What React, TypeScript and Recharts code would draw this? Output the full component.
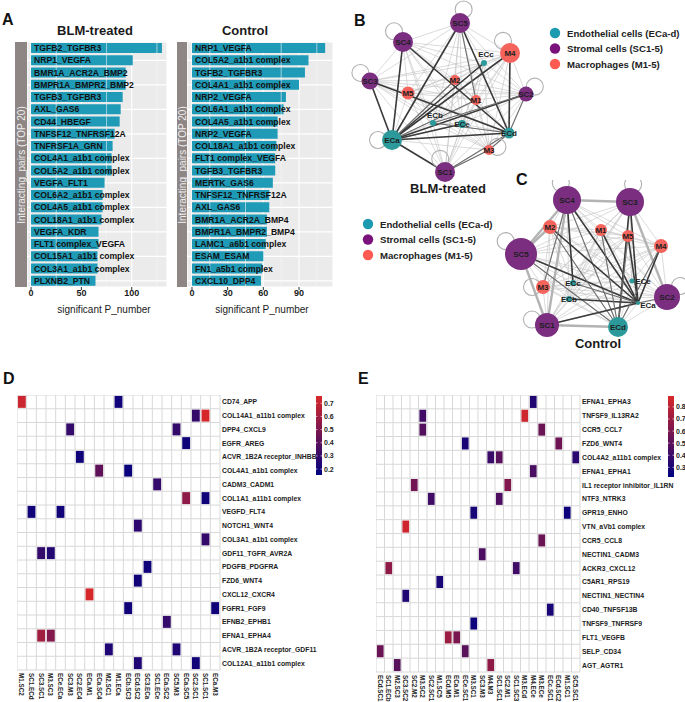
import React from 'react'
import {
  BarChart, Bar, XAxis, YAxis, CartesianGrid, LabelList,
  ScatterChart, Scatter, ReferenceLine,
} from 'recharts'

const FONT = 'Arial, "Liberation Sans", Helvetica, sans-serif'

// ---- panel A: top 20 interacting pairs
const blmPairs = [
  'TGFB2_TGFBR3', 'NRP1_VEGFA', 'BMR1A_ACR2A_BMP2', 'BMPR1A_BMPR2_BMP2', 'TGFB3_TGFBR3',
  'AXL_GAS6', 'CD44_HBEGF', 'TNFSF12_TNFRSF12A', 'TNFRSF1A_GRN', 'COL4A1_a1b1 complex',
  'COL5A2_a1b1 complex', 'VEGFA_FLT1', 'COL6A2_a1b1 complex', 'COL4A5_a1b1 complex', 'COL18A1_a1b1 complex',
  'VEGFA_KDR', 'FLT1 complex_VEGFA', 'COL15A1_a1b1 complex', 'COL3A1_a1b1 complex', 'PLXNB2_PTN',
]
const blmCounts = [130, 101, 94, 94, 91, 89, 88, 83, 81, 80, 80, 73, 71, 71, 70, 67, 67, 66, 66, 64]

const ctrlPairs = [
  'NRP1_VEGFA', 'COL5A2_a1b1 complex', 'TGFB2_TGFBR3', 'COL4A1_a1b1 complex', 'NRP2_VEGFA',
  'COL6A1_a1b1 complex', 'COL4A5_a1b1 complex', 'NRP2_VEGFA', 'COL18A1_a1b1 complex', 'FLT1 complex_VEGFA',
  'TGFB3_TGFBR3', 'MERTK_GAS6', 'TNFSF12_TNFRSF12A', 'AXL_GAS6', 'BMR1A_ACR2A_BMP4',
  'BMPR1A_BMPR2_BMP4', 'LAMC1_a6b1 complex', 'ESAM_ESAM', 'FN1_a5b1 complex', 'CXCL10_DPP4',
]
const ctrlCounts = [112, 98, 95, 90, 79, 77, 72, 72, 71, 70, 70, 68, 65, 65, 63, 63, 62, 60, 59, 58]

// ---- panels B / C: cell-cell networks (layout units)
const blmNodes = ['SC5', 'SC4', 'SC3', 'M5', 'M2', 'ECc', 'M4', 'SC2', 'M1', 'ECb', 'ECe', 'ECd', 'ECa', 'M3', 'SC1']
const blmX = [6.0, 3.15, 1.5, 3.4, 5.75, 7.2, 8.5, 9.3, 6.8, 4.65, 6.1, 8.45, 2.6, 7.45, 5.25]
const blmY = [1.15, 2.1, 4.05, 4.65, 4.0, 3.15, 2.65, 4.7, 5.0, 6.15, 6.2, 6.65, 7.0, 7.5, 8.6]
const blmStrength = [10, 10, 8.5, 6.5, 5, 3, 10, 7.5, 5, 3, 4, 5.5, 10, 5, 10]
const blmStrong: [string, string, string][] = [
  ['ECa', 'SC4', 'd'], ['ECa', 'SC3', 'd'], ['ECa', 'SC1', 'd'], ['ECa', 'SC5', 'd'], ['ECa', 'ECd', 'd'],
  ['ECa', 'SC2', 'd'], ['ECa', 'M4', 'd'], ['ECa', 'ECc', 'd'], ['ECa', 'ECe', 'd'], ['ECa', 'M1', 'm'],
  ['ECa', 'M2', 'm'], ['SC4', 'ECd', 'd'], ['SC5', 'ECd', 'd'], ['M4', 'ECd', 'd'], ['SC2', 'ECd', 'm'],
  ['SC3', 'ECd', 'd'], ['SC1', 'M3', 'm'], ['ECd', 'M3', 'm'], ['SC2', 'ECb', 'm'], ['SC5', 'M1', 'm'],
  ['ECb', 'ECd', 'm'], ['SC1', 'ECd', 'm'],
]
const blmLoops: [string, number][] = [['SC5', -75], ['SC4', -130], ['SC3', -140], ['ECa', 180], ['M4', -120], ['SC2', -40], ['SC1', -110], ['M3', -20]]
const blmLabelShift: Record<string, [number, number]> = { ECc: [2, -9], ECb: [2, -8] }

const ctrlNodes = ['SC4', 'SC3', 'M2', 'M1', 'M5', 'M4', 'SC5', 'ECe', 'SC2', 'M3', 'ECc', 'ECb', 'ECa', 'SC1', 'ECd']
const ctrlX = [3.85, 7.0, 3.0, 5.55, 6.9, 8.55, 1.55, 7.1, 8.85, 2.65, 4.15, 3.95, 7.4, 2.85, 6.4]
const ctrlY = [1.0, 1.1, 2.35, 2.5, 2.8, 3.3, 3.7, 5.05, 5.85, 5.35, 5.15, 5.95, 6.15, 7.25, 7.35]
const ctrlStrength = [14, 14, 7, 6, 6, 7, 16, 2.5, 13, 7, 3, 3, 2, 12, 10]
const ctrlStrong: [string, string, string][] = [
  ['SC5', 'SC1', 'w'], ['SC4', 'SC5', 'w'], ['SC4', 'SC3', 'w'], ['SC3', 'SC2', 'w'], ['SC1', 'ECd', 'w'],
  ['SC4', 'SC1', 'w'], ['SC5', 'M2', 'w'],
  ['SC4', 'ECa', 'd'], ['SC4', 'ECd', 'm'], ['SC3', 'ECa', 'd'], ['SC3', 'ECd', 'd'], ['SC5', 'ECa', 'd'],
  ['SC5', 'ECd', 'm'], ['M2', 'ECa', 'd'], ['M2', 'ECd', 'm'], ['M1', 'ECa', 'd'], ['M5', 'ECa', 'd'],
  ['M5', 'ECd', 'm'], ['M4', 'ECa', 'd'], ['SC1', 'ECa', 'd'], ['ECb', 'ECa', 'd'], ['ECc', 'ECa', 'm'],
  ['SC2', 'ECa', 'm'], ['M4', 'ECd', 'm'], ['SC4', 'M3', 'm'], ['SC4', 'ECc', 'd'], ['M1', 'ECd', 'm'],
]
const ctrlLoops: [string, number][] = [['SC4', -110], ['SC3', -80], ['SC5', -140], ['SC1', -160], ['SC2', -40], ['M3', 180]]
const ctrlLabelShift: Record<string, [number, number]> = { ECe: [11, 0], ECa: [10, 2] }

// ---- panels D / E: heatmaps
const dCols = ['M1.SC2', 'SC1.ECd', 'SC3.SC1', 'M3.SC3', 'ECe.ECa', 'SC3.M3', 'SC2.EC4', 'ECa.M1', 'ECa.SC4', 'M2.SC1',
  'M1.ECa', 'ECb.SC3', 'ECd.SC2', 'SC3.ECa', 'SC1.ECe', 'ECa.SC2', 'SC5.M3', 'ECa.SC5', 'SC2.SC1', 'SC1.SC1', 'ECa.M3']
const dRows = ['CD74_APP', 'COL14A1_a11b1 complex', 'DPP4_CXCL9', 'EGFR_AREG', 'ACVR_1B2A receptor_INHBB',
  'COL4A1_a1b1 complex', 'CADM3_CADM1', 'COL1A1_a11b1 complex', 'VEGFD_FLT4', 'NOTCH1_WNT4',
  'COL3A1_a1b1 complex', 'GDF11_TGFR_AVR2A', 'PDGFB_PDGFRA', 'FZD6_WNT4', 'CXCL12_CXCR4',
  'FGFR1_FGF9', 'EFNB2_EPHB1', 'EFNA1_EPHA4', 'ACVR_1B2A receptor_GDF11', 'COL12A1_a11b1 complex']
const dCells: [number, number, number][] = [
  [0, 0, 0.72], [0, 10, 0.2], [1, 18, 0.3], [1, 19, 0.75], [2, 5, 0.3], [2, 16, 0.3], [3, 17, 0.2],
  [4, 6, 0.2], [5, 8, 0.42], [5, 11, 0.18], [6, 14, 0.3], [7, 17, 0.55], [7, 19, 0.2], [8, 1, 0.2],
  [8, 4, 0.2], [9, 12, 0.28], [10, 19, 0.3], [11, 2, 0.3], [11, 3, 0.25], [12, 13, 0.2], [13, 12, 0.2],
  [14, 7, 0.75], [15, 11, 0.2], [15, 20, 0.2], [16, 15, 0.3], [17, 2, 0.6], [17, 3, 0.52],
  [18, 9, 0.24], [18, 16, 0.24], [19, 12, 0.24], [19, 18, 0.2],
]

const eCols = ['ECd.SC1', 'SC1.ECb', 'M2.SC3', 'SC3.SC2', 'SC2.M2', 'M3.SC2', 'SC2.SC1', 'M1.SC5', 'ECd.M5', 'ECa.M1',
  'ECe.SC1', 'M3.SC1', 'SC3.M3', 'M4.M3', 'SC1.SC1', 'SC2.M1', 'SC1.SC3', 'M3.ECd', 'M4.ECe', 'M3.ECe',
  'ECc.SC1', 'ECd.SC2', 'M1.SC1', 'SC5.SC1']
const eRows = ['EFNA1_EPHA3', 'TNFSF9_IL13RA2', 'CCR5_CCL7', 'FZD6_WNT4', 'COL4A2_a11b1 complex',
  'EFNA1_EPHA1', 'IL1 receptor inhibitor_IL1RN', 'NTF3_NTRK3', 'GPR19_ENHO', 'VTN_aVb1 complex',
  'CCR5_CCL8', 'NECTIN1_CADM3', 'ACKR3_CXCL12', 'C5AR1_RPS19', 'NECTIN1_NECTIN4',
  'CD40_TNFSF13B', 'TNFSF9_TNFRSF9', 'FLT1_VEGFB', 'SELP_CD34', 'AGT_AGTR1']
const eCells: [number, number, number][] = [
  [0, 18, 0.32], [1, 5, 0.42], [1, 17, 0.86], [2, 5, 0.48], [2, 19, 0.55], [3, 10, 0.3], [3, 21, 0.56],
  [4, 13, 0.4], [4, 14, 0.5], [4, 23, 0.35], [5, 18, 0.45], [6, 4, 0.57], [6, 15, 0.62], [7, 6, 0.42],
  [7, 14, 0.46], [8, 11, 0.3], [8, 22, 0.26], [9, 3, 0.86], [10, 19, 0.55], [11, 12, 0.46],
  [12, 1, 0.66], [12, 16, 0.42], [13, 7, 0.3], [14, 3, 0.32], [15, 20, 0.3], [16, 11, 0.26],
  [17, 8, 0.7], [17, 9, 0.6], [18, 0, 0.55], [18, 10, 0.5], [19, 2, 0.5], [19, 13, 0.66],
]

const LOW = [0, 0, 128]
const HIGH = [216, 40, 42]
function heat(v: number, lo: number, hi: number) {
  const t = Math.max(0, Math.min(1, (v - lo) / (hi - lo)))
  const c = LOW.map((l, i) => Math.round(l + (HIGH[i] - l) * t))
  return `rgb(${c[0]},${c[1]},${c[2]})`
}

function PairBars({ pairs, counts, domain, ticks, minor, width }: any) {
  const data = pairs.map((p: string, i: number) => ({ id: i, pair: p, n: counts[i] }))
  return (
    <BarChart width={width} height={268} data={data} layout="vertical" margin={{ top: 0, right: 0, bottom: 0, left: 0 }}>
      <CartesianGrid fill="#ebebeb" stroke="#ffffff" strokeWidth={1.1} />
      {minor.map((m: number) => (
        <ReferenceLine key={m} x={m} stroke="#f7f7f7" strokeWidth={0.6} />
      ))}
      <XAxis type="number" dataKey="n" domain={domain} ticks={ticks} allowDataOverflow interval={0}
        tick={{ fontSize: 9, fill: '#1a1a1a', fontWeight: 700, fontFamily: FONT }}
        tickLine={{ stroke: '#333' }} tickSize={3} tickMargin={0} axisLine={false} height={23} />
      <YAxis type="category" dataKey="id" hide />
      <Bar dataKey="n" fill="#1f9ab7" barSize={10} isAnimationActive={false}>
        <LabelList dataKey="pair"
          content={(p: any) => (
            <text x={p.x + 3} y={p.y + p.height / 2} dominantBaseline="central" fontSize={8.6}
              fontWeight={700} fill="#111" fontFamily={FONT}>{p.value}</text>
          )} />
      </Bar>
    </BarChart>
  )
}

const nodeFill = (name: string) =>
  name.startsWith('SC') ? '#7b2e80' : name.startsWith('EC') ? '#2c9a9b' : '#f4645d'

function Network({ nodes, xs, ys, strength, strong, loops, shift, width, height, xMax, yMax }: any) {
  const pos: Record<string, { x: number; y: number; r: number }> = {}
  nodes.forEach((n: string, i: number) => { pos[n] = { x: xs[i], y: ys[i], r: strength[i] } })
  const pts = nodes.map((n: string) => ({ name: n, ...pos[n] }))
  const light: [string, string][] = []
  nodes.forEach((a: string, i: number) => nodes.slice(i + 1).forEach((b: string) => light.push([a, b])))
  const loopData = loops.map(([n, ang]: [string, number]) => ({ name: n, ang, ...pos[n] }))
  const style: Record<string, { stroke: string; w: number }> = {
    d: { stroke: '#3a3a3a', w: 1.6 }, m: { stroke: '#6e6e6e', w: 1.1 }, w: { stroke: '#b3b3b3', w: 2.4 },
  }
  return (
    <ScatterChart width={width} height={height} margin={{ top: 0, right: 0, bottom: 0, left: 0 }}>
      <XAxis type="number" dataKey="x" domain={[0, xMax]} hide allowDataOverflow />
      <YAxis type="number" dataKey="y" domain={[0, yMax]} reversed hide allowDataOverflow />
      {light.map(([a, b]) => (
        <ReferenceLine key={a + b} ifOverflow="visible" stroke="#c2c2c2" strokeWidth={0.6}
          segment={[{ x: pos[a].x, y: pos[a].y }, { x: pos[b].x, y: pos[b].y }]} />
      ))}
      {strong.map(([a, b, k]: [string, string, string]) => (
        <ReferenceLine key={'s' + a + b} ifOverflow="visible" stroke={style[k].stroke} strokeWidth={style[k].w}
          segment={[{ x: pos[a].x, y: pos[a].y }, { x: pos[b].x, y: pos[b].y }]} />
      ))}
      <Scatter data={loopData} isAnimationActive={false}
        shape={(p: any) => {
          const a = (p.payload.ang * Math.PI) / 180
          const d = p.payload.r + 4
          return <circle cx={p.cx + Math.cos(a) * d} cy={p.cy + Math.sin(a) * d} r={8.5}
            fill="none" stroke="#b0b0b0" strokeWidth={1.1} />
        }} />
      <Scatter data={pts} isAnimationActive={false}
        shape={(p: any) => {
          const n = p.payload.name
          const s = shift[n] || [0, 0]
          return (
            <g>
              <circle cx={p.cx} cy={p.cy} r={p.payload.r} fill={nodeFill(n)} />
              <text x={p.cx + s[0]} y={p.cy + s[1]} textAnchor="middle" dominantBaseline="central"
                fontSize={8} fontWeight={700} fill="#1e1e1e" fontFamily={FONT}>{n}</text>
            </g>
          )
        }} />
    </ScatterChart>
  )
}

function Heatmap({ rows, cols, cells, lo, hi, plotW, plotH, labelW }: any) {
  const data = cells.map(([r, c, v]: number[]) => ({ x: c + 0.5, y: r + 0.5, v }))
  const cw = plotW / cols.length
  const ch = plotH / rows.length
  return (
    <ScatterChart width={plotW + labelW} height={plotH + 32} margin={{ top: 0, right: 0, bottom: 0, left: 0 }}>
      <CartesianGrid fill="#ffffff" stroke="#d8d8d8" strokeWidth={1}
        verticalCoordinatesGenerator={({ offset }: any) => cols.map((_: any, i: number) => offset.left + i * cw).concat(offset.left + plotW)}
        horizontalCoordinatesGenerator={({ offset }: any) => rows.map((_: any, i: number) => offset.top + i * ch).concat(offset.top + plotH)} />
      <XAxis type="number" dataKey="x" domain={[0, cols.length]} allowDataOverflow interval={0}
        ticks={cols.map((_: any, i: number) => i + 0.5)} tickSize={0} tickMargin={3} axisLine={false} height={32}
        tick={(p: any) => (
          <text transform={`translate(${p.x},${p.y}) rotate(90)`} textAnchor="start" dominantBaseline="central"
            fontSize={6.3} fontWeight={700} fill="#222" fontFamily={FONT}>{cols[Math.round(p.payload.value - 0.5)]}</text>
        )} />
      <YAxis type="number" dataKey="y" domain={[0, rows.length]} reversed orientation="right" allowDataOverflow interval={0}
        ticks={rows.map((_: any, i: number) => i + 0.5)} tickSize={0} tickMargin={2} axisLine={false} width={labelW}
        tick={(p: any) => (
          <text x={p.x} y={p.y} textAnchor="start" dominantBaseline="central"
            fontSize={6.8} fontWeight={700} fill="#222" fontFamily={FONT}>{rows[Math.round(p.payload.value - 0.5)]}</text>
        )} />
      <Scatter data={data} isAnimationActive={false}
        shape={(p: any) => (
          <rect x={p.cx - cw / 2 + 0.9} y={p.cy - ch / 2 + 0.9} width={cw - 1.8} height={ch - 1.8}
            fill={heat(p.payload.v, lo, hi)} />
        )} />
    </ScatterChart>
  )
}

function ColorBar({ x, y, h, lo, hi, ticks, id }: any) {
  const yOf = (v: number) => y + h - ((v - lo) / (hi - lo)) * h
  return (
    <g>
      <defs>
        <linearGradient id={id} x1="0" y1="1" x2="0" y2="0">
          <stop offset="0" stopColor={heat(lo, lo, hi)} />
          <stop offset="0.5" stopColor={heat((lo + hi) / 2, lo, hi)} />
          <stop offset="1" stopColor={heat(hi, lo, hi)} />
        </linearGradient>
      </defs>
      <rect x={x} y={y} width={6} height={h} fill={`url(#${id})`} />
      {ticks.map((t: number) => (
        <g key={t}>
          <line x1={x} x2={x + 1.5} y1={yOf(t)} y2={yOf(t)} stroke="#fff" strokeWidth={0.6} />
          <line x1={x + 4.5} x2={x + 6} y1={yOf(t)} y2={yOf(t)} stroke="#fff" strokeWidth={0.6} />
          <text x={x + 8} y={yOf(t)} dominantBaseline="central" fontSize={7} fontWeight={700} fill="#222">{t.toFixed(1)}</text>
        </g>
      ))}
    </g>
  )
}

function LegendBox({ x, y }: any) {
  const items = [['Endothelial cells (ECa-d)', '#1c9ab0'], ['Stromal cells (SC1-5)', '#7a127c'], ['Macrophages (M1-5)', '#ff5a52']]
  return (
    <g>
      {items.map(([t, c], i) => (
        <g key={t}>
          <circle cx={x} cy={y + i * 15.5} r={5.2} fill={c} />
          <text x={x + 12} y={y + i * 15.5} dominantBaseline="central" fontSize={9.6} fontWeight={700} fill="#222">{t}</text>
        </g>
      ))}
    </g>
  )
}

const abs = (left: number, top: number): React.CSSProperties => ({ position: 'absolute', left, top })

export default function App() {
  return (
    <div style={{ position: 'absolute', left: 0, top: 0, width: 685, height: 702, overflow: 'hidden', background: '#fff', fontFamily: FONT }}>
      <div style={abs(27, 42)}>
        <PairBars pairs={blmPairs} counts={blmCounts} domain={[-4, 135]} ticks={[0, 50, 100]} minor={[25, 75, 125]} width={140} />
      </div>
      <div style={abs(187, 42)}>
        <PairBars pairs={ctrlPairs} counts={ctrlCounts} domain={[-4.2, 118.6]} ticks={[0, 30, 60, 90]} minor={[15, 45, 75, 105]} width={146} />
      </div>
      <div style={abs(340, 0)}>
        <Network nodes={blmNodes} xs={blmX} ys={blmY} strength={blmStrength} strong={blmStrong} loops={blmLoops}
          shift={blmLabelShift} width={220} height={195} xMax={11} yMax={9.75} />
      </div>
      <div style={abs(490, 180)}>
        <Network nodes={ctrlNodes} xs={ctrlX} ys={ctrlY} strength={ctrlStrength} strong={ctrlStrong} loops={ctrlLoops}
          shift={ctrlLabelShift} width={195} height={170} xMax={9.75} yMax={8.5} />
      </div>
      <div style={abs(17, 395)}>
        <Heatmap rows={dRows} cols={dCols} cells={dCells} lo={0.155} hi={0.755} plotW={203} plotH={275} labelW={110} />
      </div>
      <div style={abs(376, 395)}>
        <Heatmap rows={eRows} cols={eCols} cells={eCells} lo={0.22} hi={0.89} plotW={204} plotH={277} labelW={105} />
      </div>
      <svg width={685} height={702} style={{ position: 'absolute', left: 0, top: 0, pointerEvents: 'none' }} fontFamily={FONT}>
        <g fontSize={16} fontWeight={700} fill="#111">
          <text x={2} y={25}>A</text>
          <text x={354} y={26}>B</text>
          <text x={516} y={185}>C</text>
          <text x={3} y={384}>D</text>
          <text x={358} y={384}>E</text>
        </g>
        <g fontSize={13} fontWeight={700} fill="#1a1a1a" textAnchor="middle">
          <text x={95} y={35}>BLM-treated</text>
          <text x={245} y={35}>Control</text>
          <text x={448} y={193}>BLM-treated</text>
          <text x={598} y={348}>Control</text>
        </g>
        <rect x={15} y={42} width={12} height={245} fill="#8e8585" />
        <rect x={177} y={42} width={10} height={245} fill="#8e8585" />
        <g fontSize={10} fill="#f0f0f0" textAnchor="middle">
          <text transform="translate(24.5,165) rotate(-90)">Interacting_pairs (TOP 20)</text>
          <text transform="translate(185.5,165) rotate(-90)">Interacting_pairs (TOP 20)</text>
        </g>
        <g fontSize={10} fill="#1a1a1a" textAnchor="middle">
          <text x={104} y={313}>significant P_number</text>
          <text x={262} y={313}>significant P_number</text>
        </g>
        <LegendBox x={555} y={33} />
        <LegendBox x={368} y={224} />
        <ColorBar id="gd" x={316} y={396} h={79} lo={0.155} hi={0.755} ticks={[0.2, 0.3, 0.4, 0.5, 0.6, 0.7]} />
        <ColorBar id="ge" x={668} y={396} h={81} lo={0.22} hi={0.89} ticks={[0.3, 0.4, 0.5, 0.6, 0.7, 0.8]} />
      </svg>
    </div>
  )
}
